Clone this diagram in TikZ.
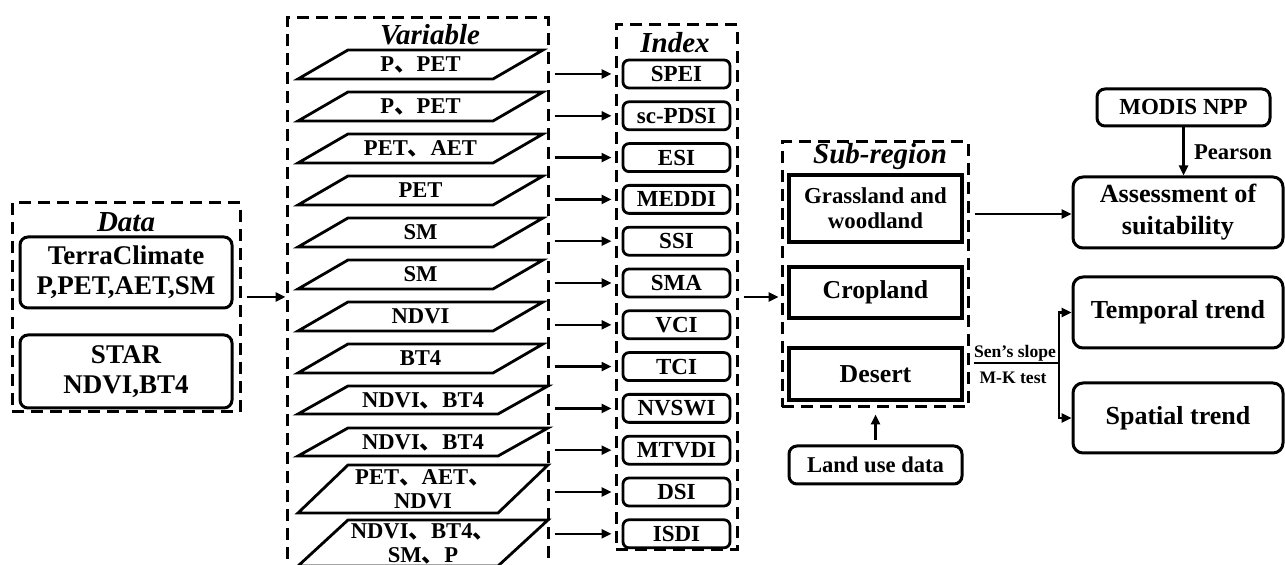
\documentclass[tikz,border=0pt]{standalone}
\usepackage{fontspec}
\setmainfont{Liberation Serif}
\newfontfamily\cjk{Noto Sans CJK SC}
\usetikzlibrary{arrows.meta,fit,calc}
\newcommand\dun{\smash{\cjk 、}}
\newcommand\prl[5]{%
  \draw[para] (348,#2) -- ({543+#4},#2) -- ({493+#4},#3) -- (298,#3) -- cycle;
  \node[ptxt] (#1) at ({420.5+#4/2},{(#2+#3)/2}) {#5};}
\begin{document}
\begin{tikzpicture}[x=0.5pt,y=-0.5pt,
  grp/.style={draw, dash pattern=on 6pt off 3.5pt, line width=1.5pt, inner sep=0pt},
  rbox/.style={draw, rounded corners=4pt, line width=1.5pt, inner sep=0pt, align=center, font=\bfseries},
  sbox/.style={draw, line width=1.6pt, inner sep=0pt, align=center, font=\bfseries},
  ibox/.style={draw, rounded corners=3pt, line width=1.4pt, inner sep=0pt, minimum width=53.5pt, minimum height=14pt, font=\bfseries\fontsize{11.5}{12}\selectfont},
  ttl/.style={font=\bfseries\itshape\fontsize{14.5}{16}\selectfont, inner sep=0pt},
  arr/.style={line width=1.2pt, -{Triangle[length=5pt,width=4.5pt]}},
  para/.style={line width=1.4pt, line join=miter},
  ptxt/.style={font=\bfseries\fontsize{11.3}{12}\selectfont, align=center, inner sep=0pt},
  lbl/.style={font=\bfseries\fontsize{11.3}{12}\selectfont, inner sep=0pt},
  ]
\useasboundingbox (0,0) rectangle (1285,565);
\clip (0,0) rectangle (1285,565);

% ---------- Data ----------
\node[grp, fit={(12,203) (240,412)}] (data) {};
\node[ttl] (tdata) at (126,222) {Data};
\node[rbox, minimum width=106pt, minimum height=35.5pt, font=\bfseries\fontsize{13.5}{15}\selectfont] (terra) at (126,272.5) {TerraClimate\\P,PET,AET,SM};
\node[rbox, minimum width=106pt, minimum height=36.5pt, font=\bfseries\fontsize{13.5}{15}\selectfont] (star) at (126,371.5) {STAR\\NDVI,BT4};

% ---------- Variable ----------
\node[grp, fit={(287,18) (548,620)}] (var) {};
\node[ttl] (tvar) at (430,35) {Variable};
\prl{p1}{50}{79}{0}{P\dun PET}
\prl{p2}{92}{121}{0}{P\dun PET}
\prl{p3}{134}{163}{0}{PET\dun AET}
\prl{p4}{176}{205}{0}{PET}
\prl{p5}{218}{247}{0}{SM}
\prl{p6}{260}{289}{0}{SM}
\prl{p7}{302}{331}{0}{NDVI}
\prl{p8}{344}{373}{0}{BT4}
\prl{p9}{386}{414}{5}{NDVI\dun BT4}
\prl{p10}{428}{456}{5}{NDVI\dun BT4}
\prl{p11}{465}{513}{5}{PET\dun AET\dun\\NDVI}
\prl{p12}{520}{566}{5}{NDVI\dun BT4\dun\\SM\dun P}

\coordinate (y297) at (0,297);
\draw[arr, shorten <=2.5pt] (data.east |- y297) -- (var.west |- y297);

% ---------- Index ----------
\node[grp, fit={(616,25) (737,550)}] (igrp) {};
\node[ttl] (tidx) at (675,43) {Index};
\foreach \t [count=\i from 0] in {SPEI,sc-PDSI,ESI,MEDDI,SSI,SMA,VCI,TCI,NVSWI,MTVDI,DSI,ISDI} {
  \node[ibox] (i\i) at (676.5,{74+41.8*\i}) {\t};
  \draw[arr, shorten <=2.5pt, shorten >=1.5pt] (var.east |- i\i) -- (igrp.west |- i\i);
}

% ---------- Sub-region ----------
\node[grp, fit={(782,142) (968,407)}] (sgrp) {};
\node[ttl] (tsub) at (880,157) {Sub-region};
\node[sbox, minimum width=86.5pt, minimum height=33.5pt, font=\bfseries\fontsize{11.4}{12.5}\selectfont] (grass) at (875.5,208.5) {Grassland and\\woodland};
\node[sbox, minimum width=86.5pt, minimum height=25.5pt, font=\bfseries\fontsize{12.9}{14}\selectfont] (crop) at (875.5,292.5) {Cropland};
\node[sbox, minimum width=86.5pt, minimum height=26pt, font=\bfseries\fontsize{12.9}{14}\selectfont] (desert) at (875.5,374) {Desert};
\node[rbox, minimum width=86.5pt, minimum height=19pt, font=\bfseries\fontsize{11.3}{12}\selectfont] (land) at (875.5,465) {Land use data};

\draw[arr, shorten <=2.5pt, shorten >=1pt] (igrp.east |- y297) -- (sgrp.west |- y297);
\draw[arr, shorten <=2pt, shorten >=3pt] (land.north) -- (land.north |- sgrp.south);

% ---------- Right ----------
\node[rbox, minimum width=86.5pt, minimum height=18.5pt, font=\bfseries\fontsize{11.5}{12}\selectfont] (modis) at (1183.5,107.5) {MODIS NPP};
\node[rbox, rounded corners=5pt, minimum width=105pt, minimum height=35.5pt, font=\bfseries\fontsize{13.1}{16}\selectfont] (assess) at (1178,212.5) {Assessment of\\suitability};
\node[rbox, rounded corners=5pt, minimum width=105pt, minimum height=35.5pt, font=\bfseries\fontsize{13}{15}\selectfont] (temp) at (1178,312.5) {Temporal trend};
\node[rbox, rounded corners=5pt, minimum width=105pt, minimum height=35pt, font=\bfseries\fontsize{13}{15}\selectfont] (spat) at (1178,418) {Spatial trend};

\draw[arr] (modis.south) -- (modis.south |- assess.north);
\node[lbl] (pear) at (1233,152) {Pearson};

\coordinate (y214) at (0,214);
\draw[arr, shorten <=2.5pt] (sgrp.east |- y214) -- (assess.west |- y214);

\coordinate (br) at (1059,363);
\draw[line width=1.4pt, shorten <=2pt] (sgrp.east |- br) -- (br);
\draw[arr] (br) |- (temp.west);
\draw[arr] (br) |- (spat.west);
\node[inner sep=0pt, font=\bfseries\fontsize{8.8}{10}\selectfont] (sens) at (1015,353) {Sen’s slope};
\node[inner sep=0pt, font=\bfseries\fontsize{8.8}{10}\selectfont] (mk) at (1013,378) {M-K test};
\end{tikzpicture}
\end{document}
